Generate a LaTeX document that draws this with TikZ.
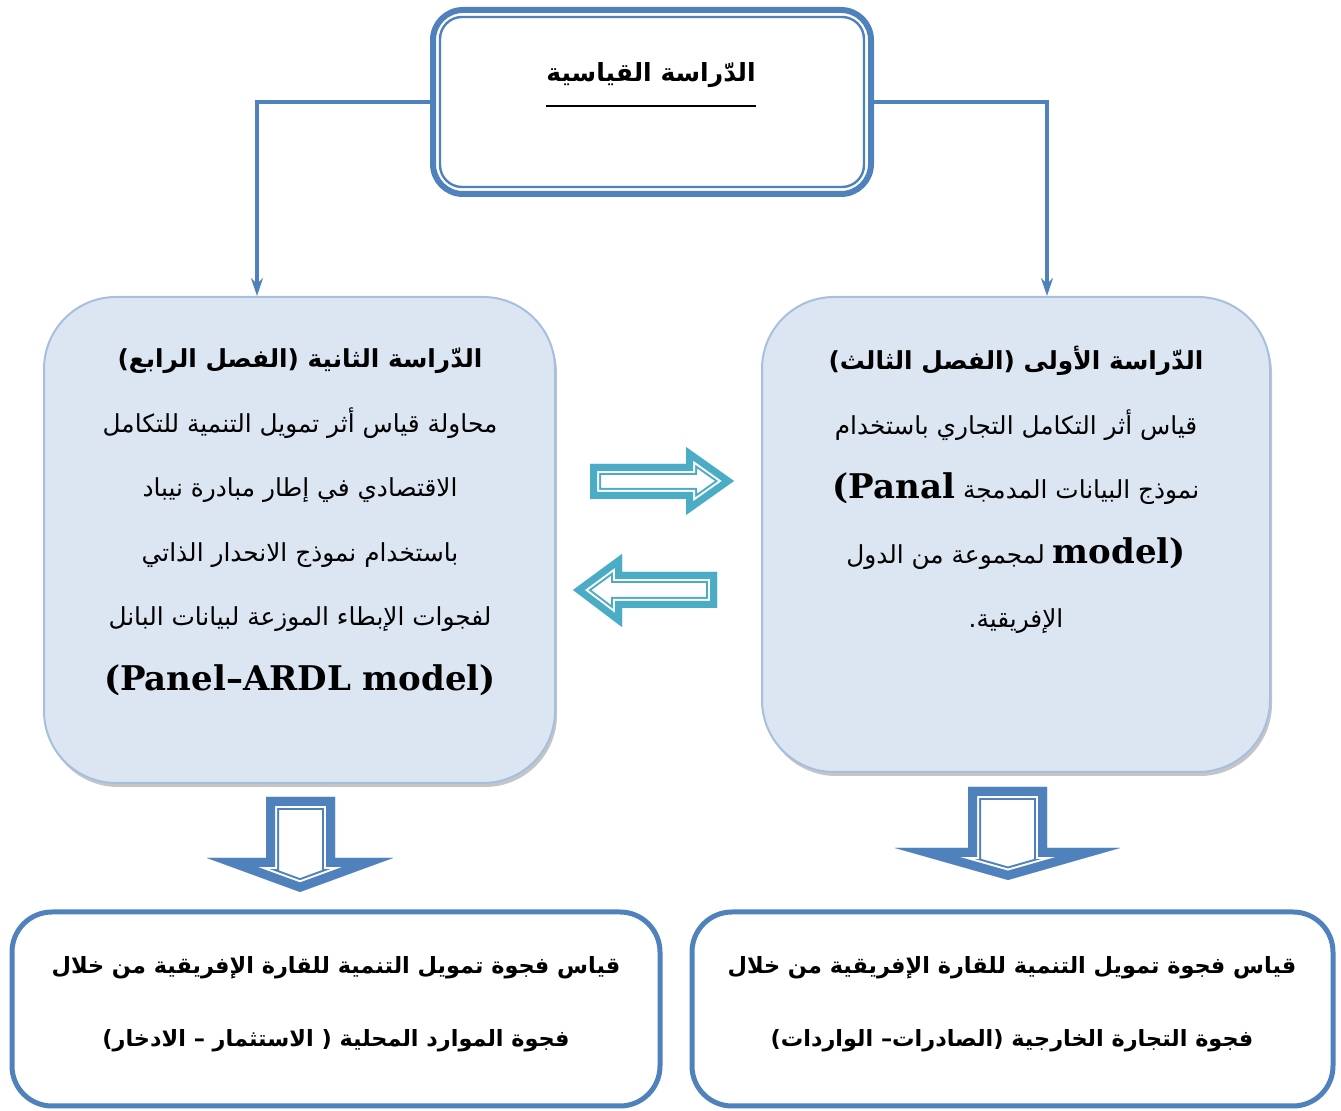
\documentclass[tikz,border=0pt]{standalone}
\usepackage{fontspec}
\usepackage{xcolor}
\usepackage{tikz}
\usetikzlibrary{calc, positioning, arrows.meta, shadows}
\TeXXeTstate=1
\newfontfamily\arabicfont[Script=Arabic]{DejaVu Sans}
\newfontfamily\latinfont{DejaVu Serif}
\definecolor{officeblue}{HTML}{4F81BD}
\definecolor{paleblue}{HTML}{DCE6F2}
\definecolor{edgeblue}{HTML}{A7BFDE}
\definecolor{arrowteal}{HTML}{4BACC6}
% hollow block arrow: colour, band width, outline
\newcommand{\blockarrow}[3]{%
  \begin{scope}
    \clip #3;
    \draw[#1, line width=2*#2+4pt] #3;
    \draw[white, line width=2*#2+2pt] #3;
    \draw[#1, line width=2*#2] #3;
  \end{scope}}
\newcommand{\modelfont}{\latinfont\bfseries\fontsize{17}{20}\selectfont}

\begin{document}
\begin{tikzpicture}[x=0.5pt, y=-0.5pt,
    topbox/.style={draw=officeblue, line width=3pt, rounded corners=15pt, minimum width=219pt, minimum height=92pt},
    studybox/.style={draw=edgeblue, fill=paleblue, line width=1pt, rounded corners=36pt,
        drop shadow={shadow xshift=1pt, shadow yshift=-2pt, fill=black!45, opacity=.5}},
    resultbox/.style={draw=officeblue, line width=2.5pt, rounded corners=20pt, minimum height=97pt},
    link/.style={officeblue, line width=2pt, -{Stealth[length=9pt, width=6pt]}},
    bodytext/.style={align=center, inner sep=0pt, font=\arabicfont\fontsize{12.4}{32.3}\selectfont},
    resulttext/.style={align=center, inner sep=0pt, font=\arabicfont\bfseries\fontsize{11.2}{36.5}\selectfont}]
    \useasboundingbox (0,0) rectangle (1341,1111);

    % top box
    \node[topbox] (top) at (652,102) {};
    \draw[officeblue, line width=1.2pt, rounded corners=11pt]
        ([xshift=5pt, yshift=-5pt]top.north west) rectangle ([xshift=-5pt, yshift=5pt]top.south east);
    \node[inner sep=0pt, font=\arabicfont\bfseries\fontsize{12.5}{15}\selectfont] (ttl) at (651,75) {\beginR الدّراسة القياسية\endR};
    \draw[line width=1.2pt] ([yshift=-9pt]ttl.south west) -- ([yshift=-9pt]ttl.south east);

    % the two studies
    \node[studybox, minimum width=255.5pt, minimum height=243pt] (s2) at (299.5,540) {};
    \node[studybox, minimum width=254pt, minimum height=237.5pt] (s1) at (1016,534.5) {};
    \draw[link] (top.west) -| ([xshift=-21.25pt]s2.north);
    \draw[link] (top.east) -| ([xshift=15.5pt]s1.north);

    \node[bodytext] (s2txt) at (300,522) {%
        {\bfseries\beginR الدّراسة الثانية (الفصل الرابع)\endR}\\
        \beginR محاولة قياس أثر تمويل التنمية للتكامل\endR\\
        \beginR الاقتصادي في إطار مبادرة نيباد\endR\\
        \beginR باستخدام نموذج الانحدار الذاتي\endR\\
        \beginR لفجوات الإبطاء الموزعة لبيانات البانل\endR\\
        {\modelfont (Panel–ARDL model)}};
    \node[bodytext] (s1txt) at (1016,490) {%
        {\bfseries\beginR الدّراسة الأولى (الفصل الثالث)\endR}\\
        \beginR قياس أثر التكامل التجاري باستخدام\endR\\
        \beginR نموذج البيانات المدمجة \beginL{\modelfont(Panal}\endL\endR\\
        \beginR\beginL{\modelfont model)}\endL{} لمجموعة من الدول\endR\\
        \beginR الإفريقية.\endR};

    % block arrows between and below
    \blockarrow{arrowteal}{3.5pt}{(590,464) -- (686,464) -- (686,447) -- (734,481) -- (686,515) -- (686,499) -- (590,499) -- cycle}
    \blockarrow{arrowteal}{3.5pt}{(717,572) -- (622,572) -- (622,554) -- (573,590) -- (622,627) -- (622,608) -- (717,608) -- cycle}
    \blockarrow{officeblue}{4.5pt}{(266,797) -- (335,797) -- (335,858) -- (393,858) -- (300,892) -- (207,858) -- (266,858) -- cycle}
    \blockarrow{officeblue}{4.5pt}{(968,787) -- (1047,787) -- (1047,848) -- (1120,848) -- (1008,880) -- (895,848) -- (968,848) -- cycle}

    % results
    \node[resultbox, minimum width=324pt] (r2) at (336,1009) {};
    \node[resultbox, minimum width=320.5pt] (r1) at (1012.5,1009) {};
    \node[resulttext] (r2txt) at (336,1004) {%
        \beginR قياس فجوة تمويل التنمية للقارة الإفريقية من خلال\endR\\
        \beginR فجوة الموارد المحلية ( الاستثمار – الادخار)\endR};
    \node[resulttext] (r1txt) at (1012,1004) {%
        \beginR قياس فجوة تمويل التنمية للقارة الإفريقية من خلال\endR\\
        \beginR فجوة التجارة الخارجية (الصادرات– الواردات)\endR};
\end{tikzpicture}
\end{document}
